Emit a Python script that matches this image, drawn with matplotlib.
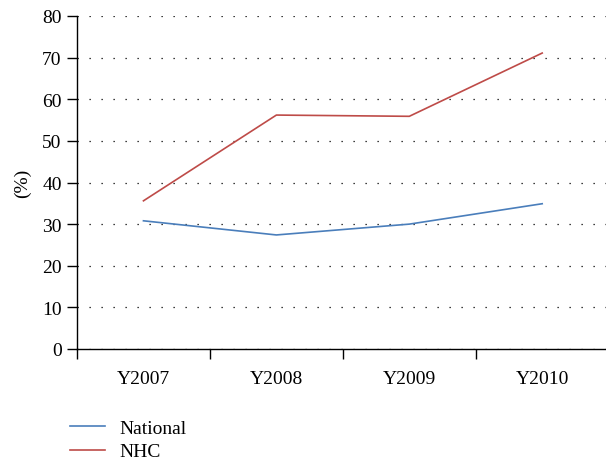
import matplotlib.pyplot as plt
import numpy as np

# values
years = ['Y2007', 'Y2008', 'Y2009', 'Y2010']
national = [30.8, 27.4, 30.0, 34.9]
nhc = [35.6, 56.2, 55.9, 71.1]

plt.rcParams['font.family'] = ['Liberation Serif', 'DejaVu Serif']

fig = plt.figure(figsize=(6.06, 4.64), dpi=100)
ax = fig.add_axes([77/606, 1 - 350/464, 1 - 77/606, 333/464])

x = np.arange(len(years))
ax.plot(x, national, color='#4a7ebb', lw=1.2, label='National')
ax.plot(x, nhc, color='#be4b48', lw=1.2, label='NHC')

ax.set_xlim(-0.5, 3.48)
ax.set_ylim(0, 80)
ax.set_yticks(range(0, 81, 10))
ax.set_xticks(x)
ax.set_xticklabels(years)
ax.set_xticks(np.arange(-0.5, 3.5, 1), minor=True)
ax.tick_params(axis='x', which='major', length=0, pad=15, labelsize=14)
ax.tick_params(axis='x', which='minor', length=7, width=1, direction='out')
ax.tick_params(axis='y', length=7, width=1, direction='out', labelsize=14, pad=4)

for s in ['top', 'right']:
    ax.spines[s].set_visible(False)
ax.spines['left'].set_linewidth(1)
ax.spines['bottom'].set_linewidth(1)

ax.yaxis.grid(True, color='black', lw=0.9, linestyle=(0, (1, 8.6)))
ax.set_axisbelow(True)
ax.set_ylabel('(%)', fontsize=14, labelpad=8)

fig.legend(loc='upper left', bbox_to_anchor=(0.1, 0.115), frameon=False,
           fontsize=14, handlelength=1.8, handletextpad=0.7, labelspacing=0.3,
           borderpad=0)

fig.savefig('out.png', dpi=100)
